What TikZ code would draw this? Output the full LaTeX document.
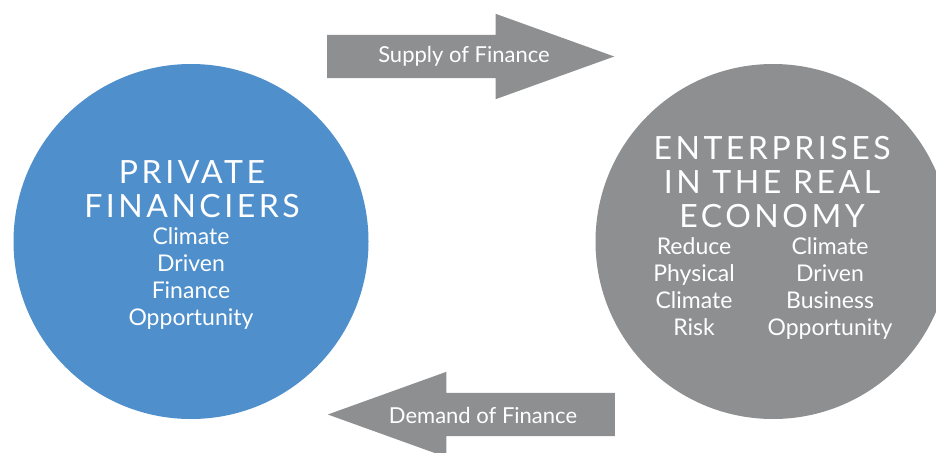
\documentclass[tikz,border=0pt]{standalone}
\usepackage{fontspec}
\setmainfont{Lato}
\newfontfamily\capsfont[LetterSpace=11]{Lato}
\usetikzlibrary{shapes.arrows}
\definecolor{finblue}{RGB}{79,143,203}
\definecolor{ecogrey}{RGB}{142,143,145}
\begin{document}
\begin{tikzpicture}
[x=1pt,y=-1pt,
  bigcircle/.style={shape=circle,minimum size=355pt,inner sep=0pt},%
  bigarrow/.style={shape=single arrow,fill=ecogrey,inner sep=0pt,inner ysep=21.5pt,
    minimum height=287pt,single arrow head extend=21pt,single arrow tip angle=39.6,
    single arrow head indent=0pt},%
  titletext/.style={text=white,align=center,font=\capsfont\fontsize{32}{34}\selectfont},%
  bodytext/.style={text=white,align=center,font=\fontsize{23}{27}\selectfont},%
  arrowtext/.style={text=white,font=\fontsize{22}{27}\selectfont}]
\useasboundingbox (0,0) rectangle (936,452);
%% circles
\node (financiers) at (191,241.5) [bigcircle,fill=finblue] {};
\node (enterprises) at (773,241.5) [bigcircle,fill=ecogrey] {};
%% arrows
\node (supply) at (327,56.5) [bigarrow,anchor=tail] {};
\node (demand) at (615,414.5) [bigarrow,shape border rotate=180,anchor=tail] {};
%% texts (base = last line)
\node (fintitle) at (192,217) [titletext,anchor=base] {PRIVATE\\FINANCIERS};
\node (finbody) at (191,325) [bodytext,anchor=base] {Climate\\Driven\\Finance\\Opportunity};
\node (enttitle) at (772,227) [titletext,anchor=base] {ENTERPRISES\\IN THE REAL\\ECONOMY};
\node (riskbody) at (694,335) [bodytext,anchor=base] {Reduce\\Physical\\Climate\\Risk};
\node (oppbody) at (830,335) [bodytext,anchor=base] {Climate\\Driven\\Business\\Opportunity};
\node (supplytext) at (464,63) [arrowtext,anchor=base] {Supply of Finance};
\node (demandtext) at (483,423) [arrowtext,anchor=base] {Demand of Finance};
\end{tikzpicture}
\end{document}
